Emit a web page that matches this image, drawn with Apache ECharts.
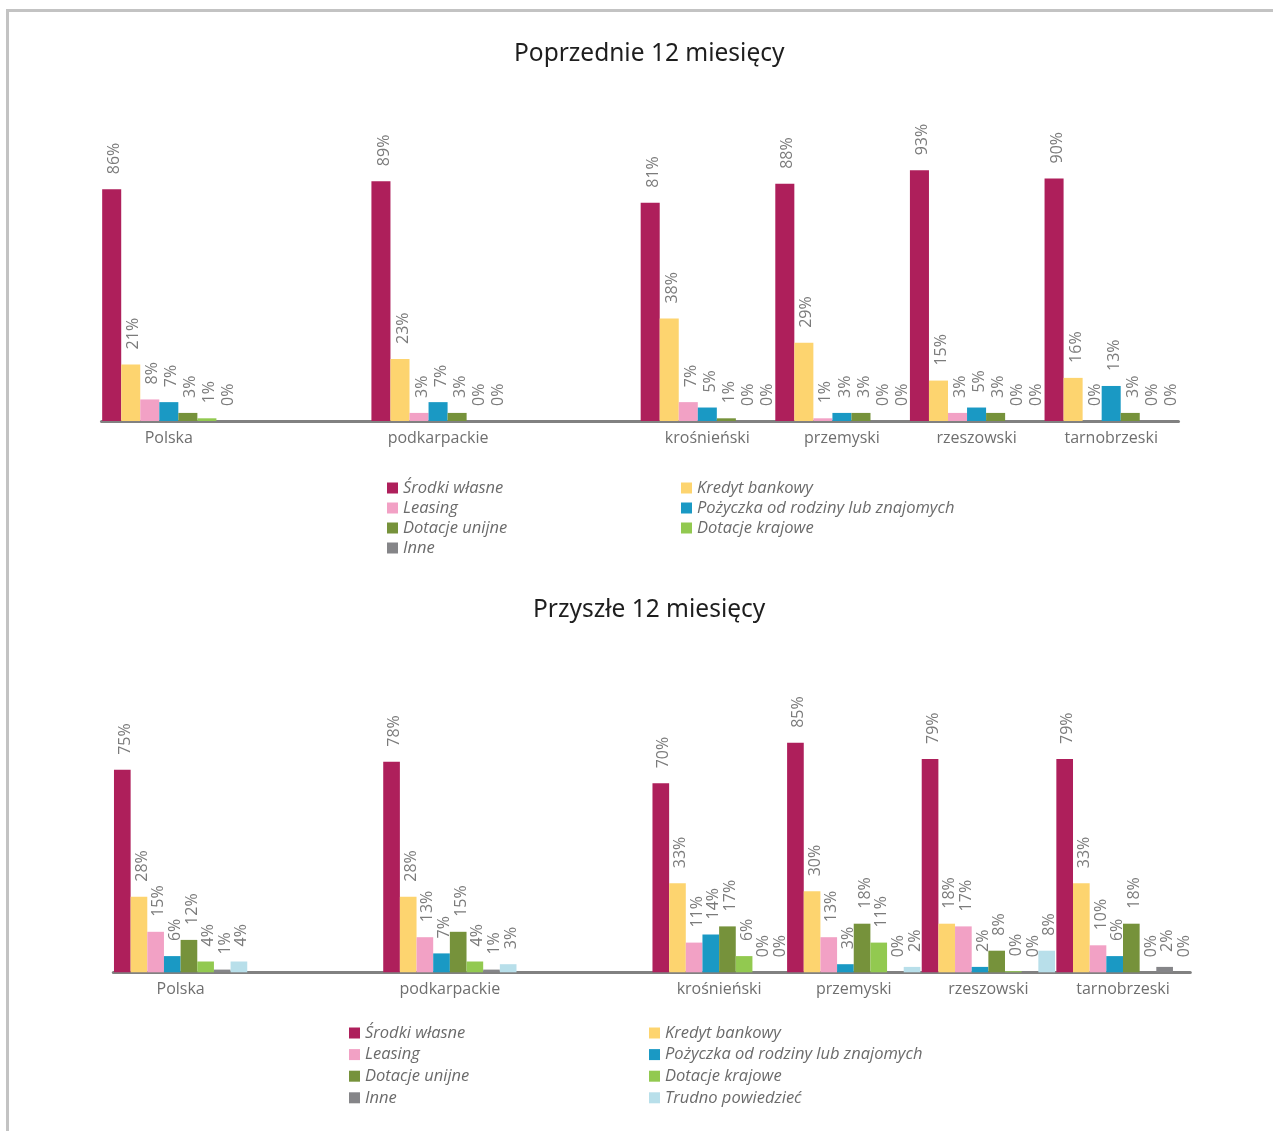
<!DOCTYPE html>
<html>
<head>
<meta charset="utf-8">
<script src="https://cdn.jsdelivr.net/npm/echarts@6/dist/echarts.min.js"></script>
<style>
  html, body { margin: 0; padding: 0; background: #ffffff; }
  #frame { position: absolute; left: 6px; top: 9px; width: 1267px; height: 1122px;
           border-top: 3px solid #c3c3c3; border-left: 3px solid #c3c3c3; box-sizing: border-box; }
  #chart { position: absolute; left: 0; top: 0; width: 1273px; height: 1131px; }
</style>
</head>
<body>
<div id="frame"></div>
<div id="chart"></div>
<script>
// ---------- categories (empty strings are spacer slots) ----------
const categories = ['Polska', '', 'podkarpackie', '', 'krośnieński', 'przemyski', 'rzeszowski', 'tarnobrzeski'];

// ---------- titles ----------
const titlePrev = 'Poprzednie 12 miesięcy';
const titleNext = 'Przyszłe 12 miesięcy';

// ---------- series names & colors ----------
const seriesNames = ['Środki własne', 'Kredyt bankowy', 'Leasing', 'Pożyczka od rodziny lub znajomych',
                     'Dotacje unijne', 'Dotacje krajowe', 'Inne', 'Trudno powiedzieć'];
const seriesColors = ['#AE1F5B', '#FDD46F', '#F2A1C5', '#1A99C4', '#76923B', '#92C950', '#858588', '#B8DFEA'];

// ---------- values: order Polska, podkarpackie, krośnieński, przemyski, rzeszowski, tarnobrzeski ----------
// Poprzednie 12 miesięcy
const prevSrodki   = [86, 89, 81, 88, 93, 90];
const prevKredyt   = [21, 23, 38, 29, 15, 16];
const prevLeasing  = [8, 3, 7, 1, 3, 0];
const prevPozyczka = [7, 7, 5, 3, 5, 13];
const prevUnijne   = [3, 3, 1, 3, 3, 3];
const prevKrajowe  = [1, 0, 0, 0, 0, 0];
const prevInne     = [0, 0, 0, 0, 0, 0];

// Przyszłe 12 miesięcy
const nextSrodki   = [75, 78, 70, 85, 79, 79];
const nextKredyt   = [28, 28, 33, 30, 18, 33];
const nextLeasing  = [15, 13, 11, 13, 17, 10];
const nextPozyczka = [6, 7, 14, 3, 2, 6];
const nextUnijne   = [12, 15, 17, 18, 8, 18];
const nextKrajowe  = [4, 4, 6, 11, 0.4, 0];
const nextInne     = [1, 1, 0, 0, 0, 2];
const nextTrudno   = [4, 3, 0, 2, 8, 0];

const prevData = [prevSrodki, prevKredyt, prevLeasing, prevPozyczka, prevUnijne, prevKrajowe, prevInne];
const nextData = [nextSrodki, nextKredyt, nextLeasing, nextPozyczka, nextUnijne, nextKrajowe, nextInne, nextTrudno];

// ---------- styles ----------
const FONT = 'Open Sans';
const labelStyle = {
  show: true, position: 'top', rotate: 90, align: 'left', verticalAlign: 'middle',
  distance: 15, offset: [0, 3], color: '#7b7b7b', fontSize: 16, fontFamily: FONT,
  formatter: p => Math.round(p.value) + '%'
};
const catLabel = { color: '#6f6f6f', fontSize: 16, fontFamily: FONT, margin: 9 };
const legendText = { fontStyle: 'italic', color: '#6b6b6b', fontSize: 16.5, fontFamily: FONT, lineHeight: 18 };

// layout of the two panels
const panels = [
  { top: 151.5, height: 269.5, left: 101.5, data: prevData },
  { top: 702.3, height: 270, left: 113.3, data: nextData }
];

// map the 6 region values onto the 8 slots (spacers get no bar)
const toSlots = v => [v[0], '-', v[1], '-', v[2], v[3], v[4], v[5]];

const grid = [], xAxis = [], yAxis = [], series = [];
panels.forEach((p, pi) => {
  grid.push({ left: p.left, width: 1077, top: p.top, height: p.height });
  xAxis.push({ type: 'category', gridIndex: pi, data: categories,
               axisLine: { show: true, lineStyle: { color: '#818181', width: 3 } },
               axisTick: { show: false }, axisLabel: catLabel });
  yAxis.push({ type: 'value', gridIndex: pi, min: 0, max: 100, show: false, splitLine: { show: false } });
  p.data.forEach((vals, si) => {
    series.push({
      type: 'bar', name: seriesNames[si], xAxisIndex: pi, yAxisIndex: pi,
      barGap: '0%', barCategoryGap: '1%',
      itemStyle: { color: seriesColors[si] }, label: labelStyle, animation: false,
      data: toSlots(vals)
    });
  });
});

const legendBase = { orient: 'vertical', itemWidth: 11, itemHeight: 11, icon: 'rect', padding: 0, textStyle: legendText };
const legend = [
  Object.assign({}, legendBase, { left: 387, top: 479, itemGap: 2,
    data: [seriesNames[0], seriesNames[2], seriesNames[4], seriesNames[6]] }),
  Object.assign({}, legendBase, { left: 681, top: 479, itemGap: 2,
    data: [seriesNames[1], seriesNames[3], seriesNames[5]] }),
  Object.assign({}, legendBase, { left: 349, top: 1024, itemGap: 3.6,
    data: [seriesNames[0], seriesNames[2], seriesNames[4], seriesNames[6]] }),
  Object.assign({}, legendBase, { left: 649, top: 1024, itemGap: 3.6,
    data: [seriesNames[1], seriesNames[3], seriesNames[5], seriesNames[7]] })
];

const titleStyle = { fontSize: 24.5, fontWeight: 'normal', color: '#1e1e1e', fontFamily: 'Noto Sans' };
const title = [
  { text: titlePrev, left: 514, top: 42, padding: 0, textStyle: titleStyle },
  { text: titleNext, left: 533, top: 598, padding: 0, textStyle: titleStyle }
];

const chart = echarts.init(document.getElementById('chart'), null, { renderer: 'canvas' });
chart.setOption({ animation: false, backgroundColor: 'transparent', title, legend, grid, xAxis, yAxis, series });
</script>
</body>
</html>
